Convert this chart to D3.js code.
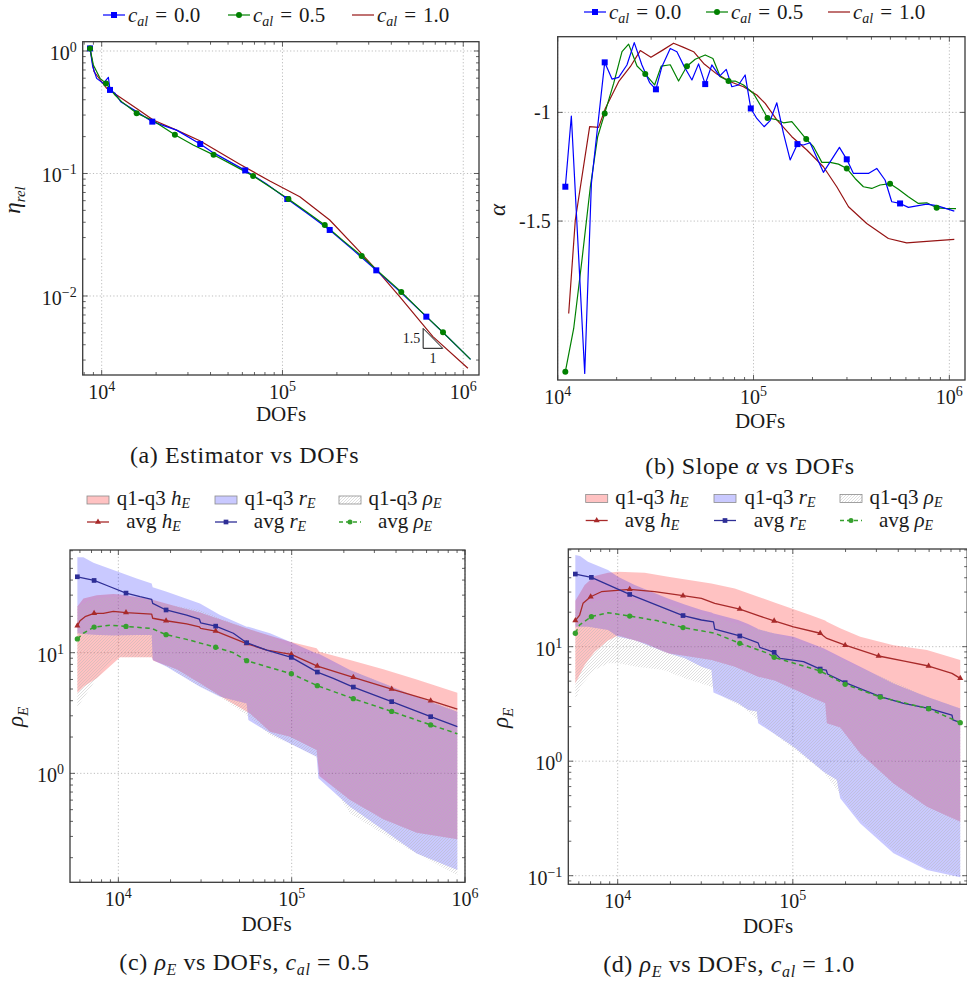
<!DOCTYPE html>
<html>
<head>
<meta charset="utf-8">
<script src="https://cdn.jsdelivr.net/npm/d3@7"></script>
<style>
  body { margin: 0; background: #fff; }
  svg { display: block; }
</style>
</head>
<body>
<svg id="fig" width="967" height="986"></svg>
<script>
// ---- (a) estimator vs DOFs : [dofs, eta_rel]
const aBlue = [[8620,1.05],[8920,0.745],[9380,0.598],[10200,0.544],[10890,0.61],[11120,0.481],[11850,0.451],[12740,0.386],[15610,0.32],[19050,0.265],[25950,0.226],[35060,0.174],[41380,0.148],[62200,0.106],[81620,0.082],[106300,0.0619],[138700,0.0467],[182500,0.0346],[245500,0.0238],[330300,0.0162],[454100,0.0106],[624800,0.00678],[822800,0.0046],[1097000,0.00304]];
const aBlueMarks = [0,5,9,11,13,15,17,19,21];
const aGreen = [[8620,1.05],[8990,0.769],[9790,0.598],[10570,0.544],[11850,0.437],[12890,0.386],[15610,0.31],[19280,0.27],[25400,0.207],[32080,0.171],[41570,0.142],[53350,0.117],[68800,0.0954],[85100,0.0781],[107900,0.0619],[135700,0.0488],[171400,0.038],[216400,0.0283],[274300,0.0212],[352300,0.0151],[454100,0.0108],[585900,0.00745],[772600,0.00505],[1097000,0.00304]];
const aGreenMarks = [0,3,6,8,10,12,14,16,18,20,22];
const aRed = [[8620,1.05],[9070,0.678],[9460,0.625],[10660,0.496],[12630,0.419],[15610,0.34],[19280,0.273],[25950,0.226],[34910,0.185],[58070,0.119],[85100,0.0868],[124700,0.0647],[182500,0.0417],[267300,0.023],[344900,0.0153],[444800,0.00988],[679400,0.00466],[1061000,0.00257]];
// slope triangle: [x0, x1, slope, y at bottom]
const aTriangle = [600000, 770000, 1.5, 0.00374];

// ---- (b) slope alpha vs DOFs : [dofs, alpha]
const bBlue = [[10940,-1.342],[11740,-1.017],[13740,-2.201],[14860,-1.327],[17380,-0.77],[18930,-0.847],[20470,-0.839],[22570,-0.782],[24600,-0.679],[26920,-0.782],[29450,-0.863],[31740,-0.894],[34050,-0.79],[37560,-0.706],[40620,-0.721],[44300,-0.79],[48460,-0.851],[52400,-0.777],[56660,-0.87],[61250,-0.782],[67100,-0.833],[72560,-0.802],[77500,-0.882],[83800,-0.874],[90600,-0.828],[96840,-0.982],[103900,-1.028],[113300,-1.066],[121600,-1.038],[131500,-0.956],[142200,-1.097],[153800,-1.219],[167600,-1.146],[179800,-1.15],[194400,-1.14],[227400,-1.276],[274600,-1.161],[299300,-1.216],[323700,-1.281],[386100,-1.281],[425800,-1.258],[469500,-1.311],[507900,-1.411],[560200,-1.419],[617600,-1.437],[766300,-1.422],[861300,-1.429],[1060000,-1.454]];
const bBlueMarks = [0,4,11,18,25,32,37,43];
const bGreen = [[10940,-2.193],[12070,-1.994],[13300,-1.679],[14680,-1.342],[16000,-1.112],[17380,-1.005],[19310,-0.867],[21300,-0.721],[23030,-0.686],[25410,-0.787],[28000,-0.824],[31250,-0.874],[33800,-0.787],[37560,-0.781],[41420,-0.856],[45700,-0.788],[50380,-0.756],[56660,-0.736],[62030,-0.752],[67630,-0.836],[74520,-0.856],[80580,-0.856],[88900,-0.874],[100000,-0.913],[108200,-0.966],[117900,-1.026],[129000,-1.032],[142200,-1.048],[156900,-1.043],[185800,-1.123],[202500,-1.158],[223400,-1.23],[246200,-1.23],[271500,-1.238],[299300,-1.258],[330100,-1.304],[364000,-1.342],[401500,-1.35],[442700,-1.334],[498000,-1.328],[549400,-1.354],[617600,-1.388],[694700,-1.419],[766300,-1.416],[861300,-1.439],[950400,-1.442],[1081000,-1.443]];
const bGreenMarks = [0,5,10,15,20,25,29,34,39,44];
const bRed = [[11380,-1.925],[12300,-1.495],[14560,-1.066],[16180,-1.069],[17500,-0.982],[20470,-0.859],[23480,-0.79],[26400,-0.716],[29930,-0.747],[34050,-0.716],[39060,-0.682],[43950,-0.701],[49430,-0.721],[55600,-0.775],[65030,-0.824],[76060,-0.859],[88900,-0.882],[104000,-0.92],[114700,-0.959],[131500,-1.035],[156900,-1.112],[187200,-1.173],[227400,-1.25],[266100,-1.342],[305500,-1.434],[378500,-1.511],[488300,-1.58],[605600,-1.6],[736000,-1.595],[1060000,-1.584]];

// ---- (c) rho_E vs DOFs, c_al = 0.5 : bands [dofs, q1, q3], lines [dofs, avg]
const cBandH = [[5800,4.66,24.1],[6285,5.23,28.2],[7500,6.13,29.9],[9357,8.16,30.6],[10220,9.15,30.4],[15570,9.15,27.7],[15920,8.58,27.3],[21700,7.28,24.1],[29580,5.57,21.5],[42170,4.05,18.1],[57500,3.14,15.6],[75040,2.21,13.8],[97780,2.01,12.3],[139300,1.56,10.9],[144400,0.95,10.2],[217000,0.601,8.69],[337800,0.416,7.28],[526300,0.322,6.01],[903600,0.284,4.66]];
const cBandR = [[5800,14.5,61.7],[6285,14.3,61.7],[7180,14.1,55.7],[9357,13.9,48.4],[12760,14.0,41.3],[15570,14.0,37.5],[15780,8.69,34.8],[19010,7.66,32.0],[29580,5.23,25.6],[38600,4.32,20.5],[54980,3.8,16.4],[56230,2.77,16.4],[75040,2.15,14.5],[97780,1.77,12.3],[139300,1.37,9.87],[142600,0.909,9.87],[217000,0.529,7.18],[337800,0.339,5.57],[526300,0.217,4.32],[903600,0.158,3.24]];
const cBandRho = [[5800,3.52,24.1],[6565,4.6,26.5],[7500,6.13,28.2],[8956,8.42,29.1],[10000,9.15,29.1],[15570,9.15,27.3],[19860,7.41,24.8],[29580,5.23,22.6],[38600,4.32,19.3],[54980,3.04,15.9],[75040,2.08,13.6],[97780,1.77,11.2],[139300,1.36,8.98],[149000,1.07,8.69],[217000,0.466,7.18],[337800,0.314,5.57],[526300,0.217,4.32],[903600,0.144,3.35]];
const cAvgH = [[5800,16.7],[6010,18.4],[6425,19.9],[7245,21.2],[8190,21.2],[9357,22.0],[11070,21.5],[15570,20.9],[15780,19.3],[18850,18.4],[24780,17.3],[29320,16.4],[29840,15.9],[36430,15.1],[54980,11.9],[71790,10.5],[99530,9.69],[140600,7.75],[226800,6.25],[377500,5.0],[633800,4.0],[903600,3.41]];
const cAvgHMarks = [0,3,6,9,13,14,16,17,18,19,20];
const cAvgR = [[5800,42.6],[7245,39.7],[8956,35.2],[11070,31.2],[13340,29.1],[15570,27.7],[15780,25.6],[18850,22.6],[24780,20.5],[29320,19.0],[29840,17.7],[36430,16.6],[46080,14.5],[54980,12.1],[71790,10.5],[99530,9.15],[140600,6.91],[173800,6.13],[226800,5.19],[377500,3.93],[633800,2.95],[903600,2.44]];
const cAvgRMarks = [0,1,3,7,11,13,15,16,18,19,20];
const cAvgRho = [[5800,13.0],[6285,14.5],[7245,16.3],[8956,16.9],[11070,16.5],[15570,15.9],[18850,14.1],[24780,12.9],[36430,11.1],[46080,10.0],[54980,8.58],[71790,7.66],[99530,6.7],[140600,5.33],[226800,4.16],[377500,3.26],[633800,2.52],[903600,2.13]];
const cAvgRhoMarks = [0,2,4,6,8,10,12,13,14,15,16];

// ---- (d) rho_E vs DOFs, c_al = 1.0
const dBandH = [[5730,4.78,25.2],[6477,6.92,34.6],[7390,9.04,41.4],[8807,11.3,44.3],[10040,12.5,45.2],[14270,10.7,44.3],[19400,8.75,40.9],[34290,7.65,35.7],[46640,6.69,32.3],[63380,5.47,27.3],[79250,5.05,24.2],[125700,3.66,18.9],[153000,3.2,16.9],[156400,2.14,16.5],[186400,1.97,14.5],[242700,1.17,12.2],[375800,0.64,10.3],[582900,0.4,9.35],[903600,0.296,7.65]];
const dBandR = [[5730,14.9,63.2],[6096,14.9,61.9],[6765,14.9,55.3],[8807,14.0,46.7],[10040,12.2,40.9],[12510,11.4,34.6],[15570,10.0,30.2],[19400,8.75,26.4],[24150,7.91,23.4],[30080,6.69,20.9],[34290,6.25,19.9],[35220,3.97,19.5],[48700,3.2,17.1],[55550,2.8,15.8],[62280,2.71,14.5],[63380,2.14,14.2],[77550,1.75,13.1],[100900,1.34,12.2],[149600,0.81,9.67],[178300,0.685,8.46],[186400,0.474,8.18],[242700,0.286,6.69],[375800,0.157,4.78],[582900,0.112,3.66],[903600,0.0967,2.89]];
const dBandRho = [[5730,3.42,20.9],[6200,4.63,23.9],[7390,6.25,25.2],[8807,7.15,25.6],[10040,7.15,25.6],[12840,6.69,25.2],[18240,6.25,23.9],[24150,5.29,20.9],[34290,4.47,18.3],[40180,3.66,17.1],[52230,2.95,15.5],[77550,1.75,13.1],[149600,0.81,9.35],[232100,0.327,6.69],[375800,0.1675,4.95],[582900,0.116,3.66],[903600,0.1013,2.89]];
const dAvgH = [[5730,16.9],[6065,18.9],[6340,23.9],[7010,27.3],[8067,30.2],[11710,31.7],[16260,30.2],[23610,27.9],[30080,26.4],[35830,23.9],[49780,21.3],[64770,18.5],[78240,16.8],[100900,14.9],[143300,13.1],[156400,11.8],[199000,10.3],[308800,8.29],[448000,7.4],[596200,6.78],[810600,5.85],[903600,5.29]];
const dAvgHMarks = [0,3,5,7,10,12,14,16,17,19,21];
const dAvgR = [[5730,43.1],[7075,40.3],[11710,28.6],[23610,18.7],[30080,17.1],[35220,16.5],[35830,14.2],[49780,12.4],[63380,10.8],[64770,9.86],[78240,8.92],[84650,7.91],[115100,7.4],[143300,6.38],[155100,6.25],[157800,5.77],[199000,4.85],[315500,3.66],[428800,3.2],[596200,2.89],[810600,2.53],[820600,2.29],[903600,2.17]];
const dAvgRMarks = [0,1,2,3,7,10,13,16,17,19];
const dAvgRho = [[5730,13.1],[6065,15.5],[7075,18.3],[8807,19.8],[11710,18.5],[16700,16.9],[23610,14.7],[35830,13.1],[49780,10.7],[72240,8.75],[78240,8.07],[143300,6.13],[199000,4.69],[315500,3.63],[596200,2.87],[903600,2.17]];
const dAvgRhoMarks = [0,2,4,6,8,10,11,12,13,14,15];

const calValues = ["0.0", "0.5", "1.0"];

const FONT = "'Liberation Serif', 'DejaVu Serif', serif";
const svg = d3.select("#fig");
const defs = svg.append("defs");
const hatch = defs.append("pattern").attr("id", "hatch")
  .attr("patternUnits", "userSpaceOnUse").attr("width", 3).attr("height", 3);
hatch.append("path").attr("d", "M-0.75,0.75 L0.75,-0.75 M0,3 L3,0 M2.25,3.75 L3.75,2.25")
  .attr("stroke", "#b8b8b8").attr("stroke-width", 0.45);

const C = {
  blue: "#0000ff", green: "#008000", red: "#961414",
  hLine: "#a82a2a", rLine: "#2e2e96", rhoLine: "#36a02e",
  pink: "rgba(255,0,0,0.24)", lilac: "rgba(0,0,255,0.21)",
  grid: "#bdbdbd", axis: "#3a3a3a", text: "#1a1a1a"
};

function txt(g) {
  return g.append("text").attr("font-family", FONT).attr("fill", C.text);
}

function makePanel(id, box, xDom, yDom, yLog) {
  const x = d3.scaleLog().domain(xDom).range([box.x0, box.x1]);
  const y = (yLog ? d3.scaleLog() : d3.scaleLinear()).domain(yDom).range([box.y1, box.y0]);
  defs.append("clipPath").attr("id", "clip-" + id).append("rect")
    .attr("x", box.x0).attr("y", box.y0).attr("width", box.x1 - box.x0).attr("height", box.y1 - box.y0);
  const root = svg.append("g");
  return {
    x, y, box,
    grid: root.append("g"),
    plot: root.append("g").attr("clip-path", `url(#clip-${id})`),
    marks: root.append("g"),
    top: root.append("g")
  };
}

function logTicks(lo, hi) {
  const major = [], minor = [];
  for (let e = Math.floor(Math.log10(lo)); e <= Math.ceil(Math.log10(hi)); e++) {
    for (let k = 1; k < 10; k++) {
      const v = k * Math.pow(10, e);
      if (v < lo * 0.999 || v > hi * 1.001) continue;
      (k === 1 ? major : minor).push(v);
    }
  }
  return { major, minor };
}

function gridLines(p, xs, ys) {
  const { x, y, box, grid } = p;
  xs.forEach(v => grid.append("line").attr("x1", x(v)).attr("x2", x(v)).attr("y1", box.y0).attr("y2", box.y1)
    .attr("stroke", C.grid).attr("stroke-dasharray", "1.2,2.2"));
  ys.forEach(v => grid.append("line").attr("y1", y(v)).attr("y2", y(v)).attr("x1", box.x0).attr("x2", box.x1)
    .attr("stroke", C.grid).attr("stroke-dasharray", "1.2,2.2"));
}

function frame(p, xt, yt) {
  const { x, y, box, top } = p;
  const tick = (x1, y1, x2, y2) => top.append("line").attr("x1", x1).attr("y1", y1).attr("x2", x2).attr("y2", y2)
    .attr("stroke", C.axis).attr("stroke-width", 0.8);
  xt.major.forEach(v => { const px = x(v); tick(px, box.y1, px, box.y1 - 5); tick(px, box.y0, px, box.y0 + 5); });
  xt.minor.forEach(v => { const px = x(v); tick(px, box.y1, px, box.y1 - 3); tick(px, box.y0, px, box.y0 + 3); });
  yt.major.forEach(v => { const py = y(v); tick(box.x0, py, box.x0 + 5, py); tick(box.x1, py, box.x1 - 5, py); });
  yt.minor.forEach(v => { const py = y(v); tick(box.x0, py, box.x0 + 3, py); tick(box.x1, py, box.x1 - 3, py); });
  top.append("rect").attr("x", box.x0).attr("y", box.y0).attr("width", box.x1 - box.x0).attr("height", box.y1 - box.y0)
    .attr("fill", "none").attr("stroke", C.axis).attr("stroke-width", 1.3);
}

function powLabel(g, x, y, exp, anchor) {
  const t = txt(g).attr("x", x).attr("y", y).attr("text-anchor", anchor).attr("font-size", 20);
  t.append("tspan").text("10");
  t.append("tspan").attr("dy", -8).attr("font-size", 14).text(exp);
}

function expOf(v) {
  const e = Math.round(Math.log10(v));
  return e < 0 ? "\u2212" + (-e) : String(e);
}

function xPowLabels(p, vals) {
  vals.forEach(v => powLabel(p.top, p.x(v), p.box.y1 + 24, expOf(v), "middle"));
}
function yPowLabels(p, vals) {
  vals.forEach(v => powLabel(p.top, p.box.x0 - 6, p.y(v) + 9, expOf(v), "end"));
}

function xTitle(p, cx, by) {
  txt(p.top).attr("x", cx).attr("y", by).attr("text-anchor", "middle").attr("font-size", 21).text("DOFs");
}

function yTitle(p, cx, cy, main, sub) {
  const t = txt(p.top).attr("transform", `translate(${cx},${cy}) rotate(-90)`)
    .attr("text-anchor", "middle").attr("font-size", 23).attr("font-style", "italic");
  t.append("tspan").text(main);
  if (sub) t.append("tspan").attr("font-size", 15).attr("dy", 5).text(sub);
}

function drawLine(p, pts, color, dash, w) {
  const line = d3.line().x(d => p.x(d[0])).y(d => p.y(d[1]));
  p.plot.append("path").datum(pts).attr("d", line).attr("fill", "none")
    .attr("stroke", color).attr("stroke-width", w || 1.2).attr("stroke-linejoin", "round")
    .attr("stroke-dasharray", dash || null);
}

function drawMarks(p, pts, idx, shape, size, color) {
  const sym = d3.symbol().type(shape).size(size);
  p.marks.selectAll(null).data(idx.map(i => pts[i])).enter().append("path")
    .attr("d", sym).attr("fill", color)
    .attr("transform", d => `translate(${p.x(d[0])},${p.y(d[1])})`);
}

function drawBand(p, pts, fill) {
  const area = d3.area().x(d => p.x(d[0])).y0(d => p.y(d[1])).y1(d => p.y(d[2]));
  p.plot.append("path").datum(pts).attr("d", area).attr("fill", fill).attr("stroke", "none");
}

function caption(cx, by, parts) {
  const t = txt(svg).attr("x", cx).attr("y", by).attr("text-anchor", "middle")
    .attr("font-size", 24).attr("letter-spacing", 0.6);
  parts.forEach(pt => {
    const s = t.append("tspan").text(pt.t);
    if (pt.i) s.attr("font-style", "italic");
    if (pt.sub) s.attr("font-size", 16).attr("dy", 5);
    if (pt.up) s.attr("dy", -5);
  });
}

function calLegend(g, x, y, color, shape, size, val) {
  g.append("line").attr("x1", x).attr("x2", x + 22).attr("y1", y).attr("y2", y)
    .attr("stroke", color).attr("stroke-width", 1.2);
  if (shape) g.append("path").attr("d", d3.symbol().type(shape).size(size)())
    .attr("transform", `translate(${x + 11},${y})`).attr("fill", color);
  const t = txt(g).attr("x", x + 25).attr("y", y + 7).attr("font-size", 21);
  t.append("tspan").attr("font-style", "italic").text("c");
  t.append("tspan").attr("font-style", "italic").attr("font-size", 14).attr("dy", 4).text("al");
  t.append("tspan").attr("dy", -4).attr("dx", 7).text("=");
  t.append("tspan").attr("dx", 7).text(val);
}

function bandLegend(g, rectX, textX, y1, y2) {
  const fills = [C.pink, C.lilac, "url(#hatch)"];
  const names = [["h", "E"], ["r", "E"], ["\u03c1", "E"]];
  const lines = [[C.hLine, d3.symbolTriangle, 16, null], [C.rLine, d3.symbolSquare, 22, null], [C.rhoLine, d3.symbolCircle, 20, "4,3"]];
  rectX.forEach((rx, i) => {
    g.append("rect").attr("x", rx).attr("y", y1 - 4).attr("width", 22).attr("height", 8)
      .attr("fill", fills[i]).attr("stroke", "#8c8c8c").attr("stroke-width", 0.8);
    const t1 = txt(g).attr("x", textX[i]).attr("y", y1 + 5).attr("text-anchor", "middle").attr("font-size", 21);
    t1.append("tspan").text("q1-q3 ");
    t1.append("tspan").attr("font-style", "italic").text(names[i][0]);
    t1.append("tspan").attr("font-style", "italic").attr("font-size", 14).attr("dy", 3).text(names[i][1]);
    const [col, shp, sz, dash] = lines[i];
    g.append("line").attr("x1", rx).attr("x2", rx + 22).attr("y1", y2).attr("y2", y2)
      .attr("stroke", col).attr("stroke-width", 1.3).attr("stroke-dasharray", dash);
    g.append("path").attr("d", d3.symbol().type(shp).size(sz)())
      .attr("transform", `translate(${rx + 11},${y2})`).attr("fill", col);
    const t2 = txt(g).attr("x", textX[i]).attr("y", y2 + 6).attr("text-anchor", "middle").attr("font-size", 21);
    t2.append("tspan").text("avg ");
    t2.append("tspan").attr("font-style", "italic").text(names[i][0]);
    t2.append("tspan").attr("font-style", "italic").attr("font-size", 14).attr("dy", 3).text(names[i][1]);
  });
}

// ================= (a)
{
  const p = makePanel("a", { x0: 82.7, x1: 479, y0: 41.7, y1: 375 }, [7852, 1.222e6], [0.002265, 1.191], true);
  const xt = logTicks(7852, 1.222e6), yt = logTicks(0.002265, 1.191);
  gridLines(p, xt.major, yt.major);
  drawLine(p, aRed, C.red);
  drawLine(p, aBlue, C.blue);
  drawLine(p, aGreen, C.green);
  drawMarks(p, aBlue, aBlueMarks, d3.symbolSquare, 36, C.blue);
  drawMarks(p, aGreen, aGreenMarks, d3.symbolCircle, 28, C.green);
  // slope triangle
  const [tx0, tx1, ts, tyb] = aTriangle;
  const tyt = tyb * Math.pow(tx1 / tx0, ts);
  p.marks.append("path")
    .attr("d", `M${p.x(tx0)},${p.y(tyt)}L${p.x(tx0)},${p.y(tyb)}L${p.x(tx1)},${p.y(tyb)}Z`)
    .attr("fill", "none").attr("stroke", "#111").attr("stroke-width", 1);
  txt(p.marks).attr("x", p.x(tx0) - 3).attr("y", (p.y(tyt) + p.y(tyb)) / 2 + 5)
    .attr("text-anchor", "end").attr("font-size", 14).text("1.5");
  txt(p.marks).attr("x", (p.x(tx0) + p.x(tx1)) / 2).attr("y", p.y(tyb) + 15)
    .attr("text-anchor", "middle").attr("font-size", 14).text("1");
  frame(p, xt, yt);
  xPowLabels(p, xt.major);
  yPowLabels(p, yt.major);
  xTitle(p, 281, 421);
  yTitle(p, 20, 200, "\u03b7", "rel");
  const lg = svg.append("g");
  calLegend(lg, 103, 15, C.blue, d3.symbolSquare, 36, calValues[0]);
  calLegend(lg, 228, 15, C.green, d3.symbolCircle, 28, calValues[1]);
  calLegend(lg, 352, 15, C.red, null, 0, calValues[2]);
  caption(244.5, 463, [{ t: "(a) Estimator vs DOFs" }]);
}

// ================= (b)
{
  const p = makePanel("b", { x0: 557.7, x1: 965, y0: 36.7, y1: 380 }, [1e4, 1.202e6], [-2.231, -0.652], false);
  const xt = logTicks(1e4, 1.202e6);
  const yt = { major: [-1.5, -1], minor: [] };
  gridLines(p, xt.major, yt.major);
  drawLine(p, bRed, C.red);
  drawLine(p, bGreen, C.green);
  drawLine(p, bBlue, C.blue);
  drawMarks(p, bBlue, bBlueMarks, d3.symbolSquare, 36, C.blue);
  drawMarks(p, bGreen, bGreenMarks, d3.symbolCircle, 28, C.green);
  frame(p, xt, yt);
  xPowLabels(p, xt.major);
  yt.major.forEach(v => txt(p.top).attr("x", p.box.x0 - 7).attr("y", p.y(v) + 7)
    .attr("text-anchor", "end").attr("font-size", 20).text(String(v)));
  xTitle(p, 760, 428);
  yTitle(p, 505, 210, "\u03b1", null);
  const lg = svg.append("g");
  calLegend(lg, 584, 12, C.blue, d3.symbolSquare, 36, calValues[0]);
  calLegend(lg, 706, 12, C.green, d3.symbolCircle, 28, calValues[1]);
  calLegend(lg, 828, 12, C.red, null, 0, calValues[2]);
  caption(750, 474, [{ t: "(b) Slope " }, { t: "\u03b1", i: true }, { t: " vs DOFs" }]);
}

function rhoPanel(id, box, xDom, yDom, bands, avgs, xlab, ylab, legend, cap) {
  const p = makePanel(id, box, xDom, yDom, true);
  const xt = logTicks(xDom[0], xDom[1]), yt = logTicks(yDom[0], yDom[1]);
  gridLines(p, xt.major, yt.major);
  drawBand(p, bands[0], C.pink);
  drawBand(p, bands[1], C.lilac);
  drawBand(p, bands[2], "url(#hatch)");
  drawLine(p, avgs[0][0], C.hLine, null, 1.3);
  drawLine(p, avgs[1][0], C.rLine, null, 1.3);
  drawLine(p, avgs[2][0], C.rhoLine, "4.5,3.5", 1.5);
  drawMarks(p, avgs[0][0], avgs[0][1], d3.symbolTriangle, 16, C.hLine);
  drawMarks(p, avgs[1][0], avgs[1][1], d3.symbolSquare, 22, C.rLine);
  drawMarks(p, avgs[2][0], avgs[2][1], d3.symbolCircle, 22, C.rhoLine);
  frame(p, xt, yt);
  xPowLabels(p, xt.major);
  yPowLabels(p, yt.major);
  xTitle(p, xlab[0], xlab[1]);
  yTitle(p, ylab[0], ylab[1], "\u03c1", "E");
  bandLegend(svg.append("g"), legend.rectX, legend.textX, legend.y1, legend.y2);
  caption(cap.x, cap.y, [{ t: "(" + cap.k + ") " }, { t: "\u03c1", i: true }, { t: "E", i: true, sub: true },
    { t: " vs DOFs, ", up: true }, { t: "c", i: true }, { t: "al", i: true, sub: true }, { t: " = " + cap.v, up: true }]);
}

// ================= (c)
rhoPanel("c", { x0: 70, x1: 465, y0: 550, y1: 882.3 }, [5260, 1e6], [0.125, 71.0],
  [cBandH, cBandR, cBandRho],
  [[cAvgH, cAvgHMarks], [cAvgR, cAvgRMarks], [cAvgRho, cAvgRhoMarks]],
  [266.7, 931], [23, 717],
  { rectX: [87, 215, 339], textX: [153.5, 280, 405], y1: 500, y2: 522 },
  { x: 244.5, y: 970, k: "c", v: calValues[1] });

// ================= (d)
rhoPanel("d", { x0: 568.3, x1: 967.2, y0: 549, y1: 884.3 }, [5224, 9.9e5], [0.0841, 71.3],
  [dBandH, dBandR, dBandRho],
  [[dAvgH, dAvgHMarks], [dAvgR, dAvgRMarks], [dAvgRho, dAvgRhoMarks]],
  [768, 933], [508, 718],
  { rectX: [585.7, 714, 840], textX: [652, 780, 906], y1: 498.5, y2: 520.5 },
  { x: 729, y: 972, k: "d", v: calValues[2] });
</script>
</body>
</html>
